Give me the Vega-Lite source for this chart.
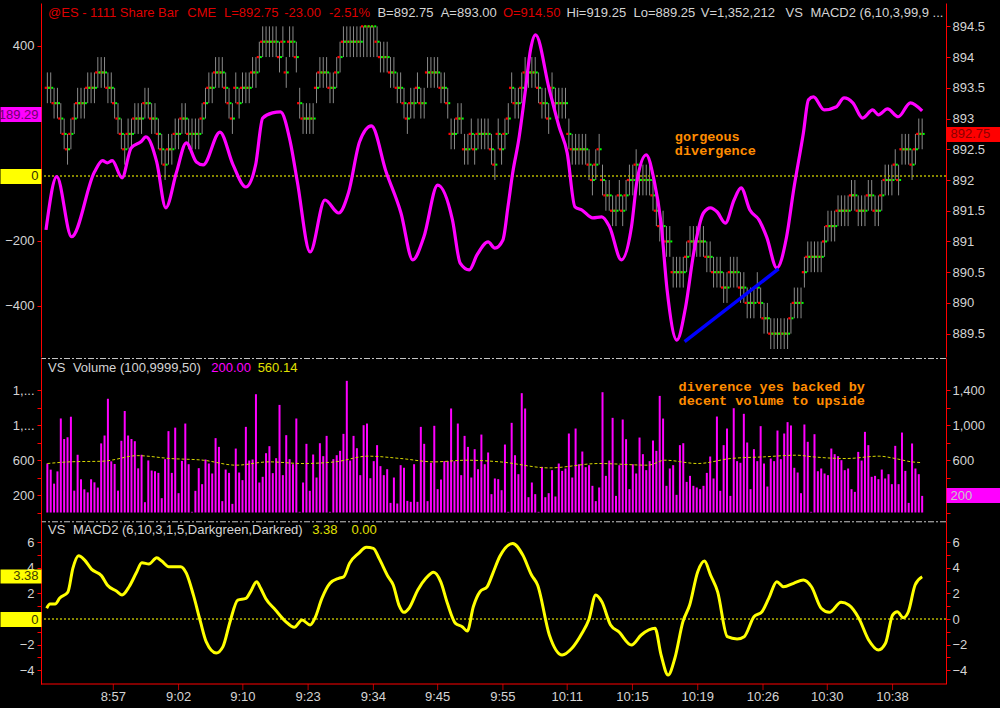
{
"$schema":"https://vega.github.io/schema/vega-lite/v6.json",
"width":905,"height":684,
"autosize":{"type":"none"},
"padding":{"left":41,"top":0,"right":54,"bottom":24},
"background":"#000000",
"config":{"view":{"stroke":null},"axis":{"domainColor":"#ff0000","tickColor":"#ff0000","labelColor":"#d4d4d4","labelFont":"Liberation Sans","labelFontSize":13,"tickSize":4,"grid":false,"labelOverlap":false,"labelBound":false,"labelFlush":false}},
"datasets":{
"bars":[
{"i":0,"p":893.5,"l":893.25,"h":893.75,"v":560},
{"i":1,"p":893.5,"l":893.25,"h":893.75,"v":490},
{"i":2,"p":893.25,"l":893,"h":893.5,"v":330},
{"i":3,"p":893.25,"l":893,"h":893.5,"v":470},
{"i":4,"p":893,"l":892.75,"h":893.25,"v":1075},
{"i":5,"p":892.75,"l":892.5,"h":893,"v":840},
{"i":6,"p":892.5,"l":892.25,"h":892.75,"v":860},
{"i":7,"p":892.75,"l":892.5,"h":893,"v":1095},
{"i":8,"p":893,"l":892.75,"h":893.25,"v":250},
{"i":9,"p":893.25,"l":893,"h":893.5,"v":660},
{"i":10,"p":893.25,"l":893,"h":893.5,"v":380},
{"i":11,"p":893.25,"l":893,"h":893.5,"v":265},
{"i":12,"p":893.5,"l":893.25,"h":893.75,"v":230},
{"i":13,"p":893.5,"l":893.25,"h":893.75,"v":380},
{"i":14,"p":893.5,"l":893.25,"h":893.75,"v":345},
{"i":15,"p":893.75,"l":893.5,"h":894,"v":285},
{"i":16,"p":893.75,"l":893.5,"h":894,"v":790},
{"i":17,"p":893.75,"l":893.5,"h":894,"v":880},
{"i":18,"p":893.5,"l":893.25,"h":893.75,"v":1300},
{"i":19,"p":893.5,"l":893.25,"h":893.75,"v":585},
{"i":20,"p":893.25,"l":893,"h":893.5,"v":555},
{"i":21,"p":893,"l":892.75,"h":893.25,"v":250},
{"i":22,"p":892.75,"l":892.5,"h":893,"v":820},
{"i":23,"p":892.5,"l":892.25,"h":892.75,"v":1160},
{"i":24,"p":892.75,"l":892.5,"h":893,"v":880},
{"i":25,"p":892.75,"l":892.5,"h":893,"v":840},
{"i":26,"p":893,"l":892.75,"h":893.25,"v":815},
{"i":27,"p":893,"l":892.75,"h":893.25,"v":505},
{"i":28,"p":893,"l":892.75,"h":893.25,"v":660},
{"i":29,"p":893.25,"l":893,"h":893.5,"v":118},
{"i":30,"p":893.25,"l":893,"h":893.5,"v":595},
{"i":31,"p":893,"l":892.75,"h":893.25,"v":480},
{"i":32,"p":893,"l":892.75,"h":893.25,"v":472},
{"i":33,"p":892.75,"l":892.5,"h":893,"v":453},
{"i":34,"p":892.5,"l":892.25,"h":892.75,"v":164},
{"i":35,"p":892.25,"l":892,"h":892.5,"v":610},
{"i":36,"p":892.5,"l":892.25,"h":892.75,"v":930},
{"i":37,"p":892.5,"l":892.25,"h":892.75,"v":453},
{"i":38,"p":892.75,"l":892.5,"h":893,"v":970},
{"i":39,"p":892.75,"l":892.5,"h":893,"v":221},
{"i":40,"p":893,"l":892.75,"h":893.25,"v":590},
{"i":41,"p":893,"l":892.75,"h":893.25,"v":1017},
{"i":42,"p":892.75,"l":892.5,"h":893,"v":552},
{"i":43,"p":892.75,"l":892.5,"h":893,"v":8},
{"i":44,"p":892.75,"l":892.5,"h":893,"v":248},
{"i":45,"p":892.75,"l":892.5,"h":893,"v":507},
{"i":46,"p":893,"l":892.75,"h":893.25,"v":324},
{"i":47,"p":893.25,"l":893,"h":893.5,"v":606},
{"i":48,"p":893.5,"l":893.25,"h":893.75,"v":560},
{"i":49,"p":893.5,"l":893.25,"h":893.75,"v":446},
{"i":50,"p":893.75,"l":893.5,"h":894,"v":850},
{"i":51,"p":893.75,"l":893.5,"h":894,"v":750},
{"i":52,"p":893.75,"l":893.5,"h":894,"v":130},
{"i":53,"p":893.5,"l":893.25,"h":893.75,"v":491},
{"i":54,"p":893.25,"l":893,"h":893.5,"v":453},
{"i":55,"p":893,"l":892.75,"h":893.25,"v":99},
{"i":56,"p":893.5,"l":893.25,"h":893.75,"v":731},
{"i":57,"p":893.25,"l":893,"h":893.5,"v":457},
{"i":58,"p":893.5,"l":893.25,"h":893.75,"v":370},
{"i":59,"p":893.5,"l":893.25,"h":893.75,"v":979},
{"i":60,"p":893.5,"l":893.25,"h":893.75,"v":594},
{"i":61,"p":893.75,"l":893.5,"h":894,"v":606},
{"i":62,"p":893.75,"l":893.5,"h":894,"v":1352},
{"i":63,"p":894,"l":893.75,"h":894.25,"v":343},
{"i":64,"p":894.25,"l":894,"h":894.5,"v":408},
{"i":65,"p":894.25,"l":894,"h":894.5,"v":678},
{"i":66,"p":894.25,"l":894,"h":894.5,"v":758},
{"i":67,"p":894.25,"l":894,"h":894.5,"v":450},
{"i":68,"p":894.25,"l":894,"h":894.5,"v":621},
{"i":69,"p":894,"l":893.75,"h":894.25,"v":1230},
{"i":70,"p":894.25,"l":894,"h":894.5,"v":427},
{"i":71,"p":893.75,"l":893.5,"h":894,"v":884},
{"i":72,"p":894.25,"l":894,"h":894.5,"v":610},
{"i":73,"p":894.25,"l":894,"h":894.5,"v":552},
{"i":74,"p":894,"l":893.75,"h":894.25,"v":1074},
{"i":75,"p":893.25,"l":893,"h":893.5,"v":8},
{"i":76,"p":893,"l":892.75,"h":893.25,"v":343},
{"i":77,"p":893,"l":892.75,"h":893.25,"v":785},
{"i":78,"p":893,"l":892.75,"h":893.25,"v":248},
{"i":79,"p":893,"l":892.75,"h":893.25,"v":663},
{"i":80,"p":893.5,"l":893.25,"h":893.75,"v":400},
{"i":81,"p":893.75,"l":893.5,"h":894,"v":792},
{"i":82,"p":893.75,"l":893.5,"h":894,"v":644},
{"i":83,"p":893.75,"l":893.5,"h":894,"v":876},
{"i":84,"p":893.5,"l":893.25,"h":893.75,"v":8},
{"i":85,"p":893.5,"l":893.25,"h":893.75,"v":610},
{"i":86,"p":893.75,"l":893.5,"h":894,"v":655},
{"i":87,"p":894,"l":893.75,"h":894.25,"v":705},
{"i":88,"p":894.25,"l":894,"h":894.5,"v":899},
{"i":89,"p":894.25,"l":894,"h":894.5,"v":1505},
{"i":90,"p":894.25,"l":894,"h":894.5,"v":594},
{"i":91,"p":894.25,"l":894,"h":894.5,"v":876},
{"i":92,"p":894.25,"l":894,"h":894.5,"v":735},
{"i":93,"p":894.25,"l":894,"h":894.5,"v":427},
{"i":94,"p":894.5,"l":894,"h":894.5,"v":998},
{"i":95,"p":894.5,"l":894,"h":894.5,"v":1017},
{"i":96,"p":894.5,"l":894,"h":894.5,"v":392},
{"i":97,"p":894.5,"l":894,"h":894.5,"v":587},
{"i":98,"p":894.25,"l":894,"h":894.5,"v":770},
{"i":99,"p":894,"l":893.75,"h":894.25,"v":530},
{"i":100,"p":894,"l":893.75,"h":894.25,"v":427},
{"i":101,"p":894,"l":893.75,"h":894.25,"v":495},
{"i":102,"p":893.75,"l":893.5,"h":894,"v":110},
{"i":103,"p":893.75,"l":893.5,"h":894,"v":400},
{"i":104,"p":893.5,"l":893.25,"h":893.75,"v":103},
{"i":105,"p":893.5,"l":893.25,"h":893.75,"v":541},
{"i":106,"p":893.25,"l":893,"h":893.5,"v":511},
{"i":107,"p":893,"l":892.75,"h":893.25,"v":133},
{"i":108,"p":893.25,"l":893,"h":893.5,"v":122},
{"i":109,"p":893.25,"l":893,"h":893.5,"v":552},
{"i":110,"p":893.5,"l":893.25,"h":893.75,"v":122},
{"i":111,"p":893.25,"l":893,"h":893.5,"v":979},
{"i":112,"p":893.25,"l":893,"h":893.5,"v":785},
{"i":113,"p":893.75,"l":893.5,"h":894,"v":130},
{"i":114,"p":893.75,"l":893.5,"h":894,"v":568},
{"i":115,"p":893.75,"l":893.5,"h":894,"v":991},
{"i":116,"p":893.75,"l":893.5,"h":894,"v":267},
{"i":117,"p":893.5,"l":893.25,"h":893.75,"v":377},
{"i":118,"p":893.5,"l":893.25,"h":893.75,"v":587},
{"i":119,"p":893.25,"l":893,"h":893.5,"v":587},
{"i":120,"p":892.75,"l":892.5,"h":893,"v":1189},
{"i":121,"p":892.75,"l":892.5,"h":893,"v":587},
{"i":122,"p":893,"l":892.75,"h":893.25,"v":1017},
{"i":123,"p":893,"l":892.75,"h":893.25,"v":427},
{"i":124,"p":892.5,"l":892.25,"h":892.75,"v":876},
{"i":125,"p":892.5,"l":892.25,"h":892.75,"v":750},
{"i":126,"p":892.75,"l":892.5,"h":893,"v":400},
{"i":127,"p":892.5,"l":892.25,"h":892.75,"v":724},
{"i":128,"p":892.75,"l":892.5,"h":893,"v":495},
{"i":129,"p":892.75,"l":892.5,"h":893,"v":891},
{"i":130,"p":892.75,"l":892.5,"h":893,"v":552},
{"i":131,"p":892.75,"l":892.5,"h":893,"v":686},
{"i":132,"p":892.5,"l":892.25,"h":892.75,"v":210},
{"i":133,"p":892.25,"l":892,"h":892.5,"v":389},
{"i":134,"p":892.75,"l":892.5,"h":893,"v":381},
{"i":135,"p":892.5,"l":892.25,"h":892.75,"v":255},
{"i":136,"p":892.75,"l":892.5,"h":893,"v":777},
{"i":137,"p":893,"l":892.75,"h":893.25,"v":8},
{"i":138,"p":893.5,"l":893.25,"h":893.75,"v":1025},
{"i":139,"p":893.25,"l":893,"h":893.5,"v":655},
{"i":140,"p":893.25,"l":893,"h":893.5,"v":438},
{"i":141,"p":893.5,"l":893.25,"h":893.75,"v":1364},
{"i":142,"p":893.75,"l":893.5,"h":894,"v":1189},
{"i":143,"p":893.75,"l":893.5,"h":894,"v":175},
{"i":144,"p":893.75,"l":893.5,"h":894,"v":343},
{"i":145,"p":893.75,"l":893.5,"h":894,"v":210},
{"i":146,"p":893.5,"l":893.25,"h":893.75,"v":8},
{"i":147,"p":893.25,"l":893,"h":893.5,"v":522},
{"i":148,"p":893.25,"l":893,"h":893.5,"v":175},
{"i":149,"p":893,"l":892.75,"h":893.25,"v":221},
{"i":150,"p":893.5,"l":893.25,"h":893.75,"v":484},
{"i":151,"p":893.25,"l":893,"h":893.5,"v":183},
{"i":152,"p":893.25,"l":893,"h":893.5,"v":560},
{"i":153,"p":893.25,"l":893,"h":893.5,"v":476},
{"i":154,"p":893.25,"l":893,"h":893.5,"v":503},
{"i":155,"p":892.75,"l":892.5,"h":893,"v":903},
{"i":156,"p":892.5,"l":892.25,"h":892.75,"v":400},
{"i":157,"p":892.5,"l":892.25,"h":892.75,"v":960},
{"i":158,"p":892.5,"l":892.25,"h":892.75,"v":552},
{"i":159,"p":892.5,"l":892.25,"h":892.75,"v":697},
{"i":160,"p":892.5,"l":892.25,"h":892.75,"v":518},
{"i":161,"p":892.25,"l":892,"h":892.5,"v":541},
{"i":162,"p":892,"l":891.75,"h":892.25,"v":305},
{"i":163,"p":892.25,"l":892,"h":892.5,"v":130},
{"i":164,"p":892.5,"l":892.25,"h":892.75,"v":286},
{"i":165,"p":892,"l":891.75,"h":892.25,"v":1375},
{"i":166,"p":891.75,"l":891.5,"h":892,"v":419},
{"i":167,"p":891.75,"l":891.5,"h":892,"v":594},
{"i":168,"p":891.5,"l":891.25,"h":891.75,"v":1082},
{"i":169,"p":891.5,"l":891.25,"h":891.75,"v":190},
{"i":170,"p":891.75,"l":891.5,"h":892,"v":541},
{"i":171,"p":891.5,"l":891.25,"h":891.75,"v":1063},
{"i":172,"p":891.75,"l":891.5,"h":892,"v":838},
{"i":173,"p":892,"l":891.75,"h":892.25,"v":267},
{"i":174,"p":892,"l":891.75,"h":892.25,"v":552},
{"i":175,"p":892.25,"l":892,"h":892.5,"v":446},
{"i":176,"p":892,"l":891.75,"h":892.25,"v":857},
{"i":177,"p":892,"l":891.75,"h":892.25,"v":667},
{"i":178,"p":892,"l":891.75,"h":892.25,"v":484},
{"i":179,"p":892,"l":891.75,"h":892.25,"v":587},
{"i":180,"p":891.75,"l":891.5,"h":892,"v":823},
{"i":181,"p":891.5,"l":891.25,"h":891.75,"v":705},
{"i":182,"p":891.25,"l":891,"h":891.5,"v":1333},
{"i":183,"p":891.25,"l":891,"h":891.5,"v":1074},
{"i":184,"p":891,"l":890.75,"h":891.25,"v":305},
{"i":185,"p":891,"l":890.75,"h":891.25,"v":503},
{"i":186,"p":890.5,"l":890.25,"h":890.75,"v":541},
{"i":187,"p":890.5,"l":890.25,"h":890.75,"v":202},
{"i":188,"p":890.5,"l":890.25,"h":890.75,"v":770},
{"i":189,"p":890.5,"l":890.25,"h":890.75,"v":792},
{"i":190,"p":890.75,"l":890.5,"h":891,"v":350},
{"i":191,"p":891,"l":890.75,"h":891.25,"v":419},
{"i":192,"p":891,"l":890.75,"h":891.25,"v":305},
{"i":193,"p":891,"l":890.75,"h":891.25,"v":286},
{"i":194,"p":891,"l":890.75,"h":891.25,"v":267},
{"i":195,"p":891,"l":890.75,"h":891.25,"v":305},
{"i":196,"p":890.75,"l":890.5,"h":891,"v":453},
{"i":197,"p":890.75,"l":890.5,"h":891,"v":640},
{"i":198,"p":890.5,"l":890.25,"h":890.75,"v":389},
{"i":199,"p":890.5,"l":890.25,"h":890.75,"v":1097},
{"i":200,"p":890.5,"l":890.25,"h":890.75,"v":248},
{"i":201,"p":890.25,"l":890,"h":890.5,"v":770},
{"i":202,"p":890.25,"l":890,"h":890.5,"v":960},
{"i":203,"p":890.5,"l":890.25,"h":890.75,"v":190},
{"i":204,"p":890.5,"l":890.25,"h":890.75,"v":1192},
{"i":205,"p":890.5,"l":890.25,"h":890.75,"v":587},
{"i":206,"p":890.25,"l":890,"h":890.5,"v":568},
{"i":207,"p":890.25,"l":890,"h":890.5,"v":1128},
{"i":208,"p":890,"l":889.75,"h":890.25,"v":800},
{"i":209,"p":890,"l":889.75,"h":890.25,"v":267},
{"i":210,"p":890,"l":889.75,"h":890.25,"v":724},
{"i":211,"p":890.25,"l":890,"h":890.5,"v":587},
{"i":212,"p":890,"l":889.75,"h":890.25,"v":987},
{"i":213,"p":889.75,"l":889.5,"h":890,"v":560},
{"i":214,"p":889.75,"l":889.5,"h":890,"v":297},
{"i":215,"p":889.5,"l":889.25,"h":889.75,"v":617},
{"i":216,"p":889.5,"l":889.25,"h":889.75,"v":587},
{"i":217,"p":889.5,"l":889.25,"h":889.75,"v":937},
{"i":218,"p":889.5,"l":889.25,"h":889.75,"v":610},
{"i":219,"p":889.5,"l":889.25,"h":889.75,"v":903},
{"i":220,"p":889.5,"l":889.25,"h":889.75,"v":1033},
{"i":221,"p":889.75,"l":889.5,"h":890,"v":995},
{"i":222,"p":890,"l":889.75,"h":890.25,"v":511},
{"i":223,"p":890,"l":889.75,"h":890.25,"v":457},
{"i":224,"p":890,"l":889.75,"h":890.25,"v":221},
{"i":225,"p":890.5,"l":890.25,"h":890.75,"v":1006},
{"i":226,"p":890.75,"l":890.5,"h":891,"v":808},
{"i":227,"p":890.75,"l":890.5,"h":891,"v":8},
{"i":228,"p":890.75,"l":890.5,"h":891,"v":895},
{"i":229,"p":890.75,"l":890.5,"h":891,"v":472},
{"i":230,"p":890.75,"l":890.5,"h":891,"v":503},
{"i":231,"p":891,"l":890.75,"h":891.25,"v":446},
{"i":232,"p":891.25,"l":891,"h":891.5,"v":427},
{"i":233,"p":891.25,"l":891,"h":891.5,"v":731},
{"i":234,"p":891.25,"l":891,"h":891.5,"v":667},
{"i":235,"p":891.5,"l":891.25,"h":891.75,"v":644},
{"i":236,"p":891.5,"l":891.25,"h":891.75,"v":598},
{"i":237,"p":891.5,"l":891.25,"h":891.75,"v":484},
{"i":238,"p":891.5,"l":891.25,"h":891.75,"v":503},
{"i":239,"p":891.75,"l":891.5,"h":892,"v":267},
{"i":240,"p":891.75,"l":891.5,"h":892,"v":236},
{"i":241,"p":891.5,"l":891.25,"h":891.75,"v":693},
{"i":242,"p":891.5,"l":891.25,"h":891.75,"v":594},
{"i":243,"p":891.5,"l":891.25,"h":891.75,"v":922},
{"i":244,"p":891.75,"l":891.5,"h":892,"v":770},
{"i":245,"p":891.75,"l":891.5,"h":892,"v":408},
{"i":246,"p":891.5,"l":891.25,"h":891.75,"v":419},
{"i":247,"p":891.5,"l":891.25,"h":891.75,"v":381},
{"i":248,"p":891.75,"l":891.5,"h":892,"v":491},
{"i":249,"p":892,"l":891.75,"h":892.25,"v":389},
{"i":250,"p":892,"l":891.75,"h":892.25,"v":438},
{"i":251,"p":892,"l":891.75,"h":892.25,"v":324},
{"i":252,"p":892.25,"l":892,"h":892.5,"v":762},
{"i":253,"p":892,"l":891.75,"h":892.25,"v":324},
{"i":254,"p":892.5,"l":892.25,"h":892.75,"v":914},
{"i":255,"p":892.5,"l":892.25,"h":892.75,"v":476},
{"i":256,"p":892.5,"l":892.25,"h":892.75,"v":110},
{"i":257,"p":892.25,"l":892,"h":892.5,"v":789},
{"i":258,"p":892.5,"l":892.25,"h":892.75,"v":503},
{"i":259,"p":892.75,"l":892.5,"h":893,"v":438},
{"i":260,"p":892.75,"l":892.5,"h":893,"v":190}
],
"osc":[{"i":-0.4,"o":-166},{"i":2.8,"o":-2},{"i":7.2,"o":-187},{"i":14,"o":12},{"i":16.4,"o":47},{"i":17.8,"o":40},{"i":19.3,"o":47},{"i":22.2,"o":-6},{"i":24.9,"o":86},{"i":27.8,"o":105},{"i":29.3,"o":120},{"i":32.5,"o":43},{"i":35.2,"o":-98},{"i":38.4,"o":12},{"i":41.3,"o":102},{"i":44.3,"o":43},{"i":46.3,"o":34},{"i":51.3,"o":135},{"i":55.2,"o":34},{"i":59,"o":-34},{"i":61.9,"o":34},{"i":64,"o":178},{"i":66.9,"o":194},{"i":69.3,"o":197},{"i":72.2,"o":105},{"i":74.3,"o":-18},{"i":78.1,"o":-234},{"i":82.5,"o":-74},{"i":86.6,"o":-114},{"i":89.5,"o":-52},{"i":92.8,"o":105},{"i":96.3,"o":154},{"i":100.7,"o":12},{"i":105.1,"o":-114},{"i":108.6,"o":-258},{"i":111.9,"o":-188},{"i":116,"o":-28},{"i":120.4,"o":-135},{"i":122.7,"o":-268},{"i":125.4,"o":-289},{"i":127.7,"o":-243},{"i":131,"o":-203},{"i":133,"o":-222},{"i":135.4,"o":-197},{"i":136.9,"o":-95},{"i":138.3,"o":9},{"i":140.1,"o":111},{"i":142.1,"o":265},{"i":143.6,"o":388},{"i":145.1,"o":434},{"i":149.2,"o":265},{"i":152.1,"o":151},{"i":154.5,"o":71},{"i":156.8,"o":-95},{"i":158.9,"o":-105},{"i":162.1,"o":-129},{"i":164.8,"o":-126},{"i":167.1,"o":-157},{"i":170.6,"o":-258},{"i":173.6,"o":-157},{"i":175.3,"o":-12},{"i":178,"o":65},{"i":180.3,"o":-12},{"i":182.4,"o":-145},{"i":184.2,"o":-351},{"i":187.1,"o":-505},{"i":189.7,"o":-403},{"i":192.1,"o":-237},{"i":195,"o":-114},{"i":197.1,"o":-98},{"i":199.1,"o":-111},{"i":201.5,"o":-145},{"i":204.1,"o":-74},{"i":206.2,"o":-37},{"i":208.8,"o":-105},{"i":211.5,"o":-135},{"i":213.8,"o":-188},{"i":216.8,"o":-283},{"i":219.7,"o":-188},{"i":221.8,"o":-43},{"i":224.7,"o":132},{"i":226.2,"o":234},{"i":227.7,"o":243},{"i":230.9,"o":203},{"i":234.4,"o":212},{"i":236.8,"o":240},{"i":239.4,"o":225},{"i":242.3,"o":178},{"i":245.3,"o":203},{"i":247,"o":188},{"i":249.7,"o":206},{"i":252.9,"o":182},{"i":256.5,"o":225},{"i":260,"o":200}],
"macd":[{"i":-0.2,"m":0.84},{"i":0.8,"m":1.17},{"i":2.3,"m":1.17},{"i":3.7,"m":1.64},{"i":6.1,"m":2.1},{"i":7.6,"m":3.98},{"i":9.3,"m":4.95},{"i":11.1,"m":4.6},{"i":13.1,"m":3.9},{"i":16.1,"m":3.38},{"i":17.8,"m":2.66},{"i":20.5,"m":2.19},{"i":22.2,"m":1.88},{"i":24.3,"m":2.52},{"i":26.4,"m":3.59},{"i":28.1,"m":4.4},{"i":30.2,"m":4.3},{"i":32.5,"m":4.79},{"i":34,"m":4.53},{"i":36.1,"m":4.09},{"i":39.6,"m":4.09},{"i":41.3,"m":3.59},{"i":43.4,"m":1.88},{"i":45.5,"m":-0.21},{"i":47.2,"m":-1.77},{"i":50.2,"m":-2.66},{"i":52.2,"m":-2.16},{"i":54.3,"m":-0.21},{"i":56.6,"m":1.48},{"i":59,"m":1.61},{"i":60.4,"m":2.14},{"i":62.2,"m":2.92},{"i":63.4,"m":2.4},{"i":64.9,"m":1.61},{"i":67.8,"m":0.7},{"i":70.7,"m":-0.16},{"i":73.4,"m":-0.65},{"i":75.7,"m":-0.08},{"i":78.1,"m":-0.47},{"i":79.5,"m":0.05},{"i":81.6,"m":1.61},{"i":84,"m":2.79},{"i":86.6,"m":3.18},{"i":88.1,"m":3.3},{"i":89.8,"m":4.35},{"i":92.5,"m":5.13},{"i":94.8,"m":5.6},{"i":96.9,"m":5.52},{"i":98.6,"m":4.74},{"i":101.3,"m":3.3},{"i":102.8,"m":2.66},{"i":104.5,"m":1.09},{"i":106,"m":0.52},{"i":107.5,"m":0.84},{"i":110.1,"m":2.27},{"i":112.5,"m":3.18},{"i":114.8,"m":3.65},{"i":116.9,"m":2.92},{"i":118.9,"m":1.23},{"i":121.3,"m":-0.34},{"i":123.3,"m":-0.6},{"i":124.8,"m":-0.94},{"i":126.6,"m":0.96},{"i":128.6,"m":2.14},{"i":130.7,"m":2.52},{"i":132.4,"m":3.57},{"i":134.5,"m":4.9},{"i":138.3,"m":5.91},{"i":141.3,"m":5},{"i":143.9,"m":3.44},{"i":145.7,"m":2.66},{"i":149.2,"m":-1.25},{"i":153,"m":-2.81},{"i":155.9,"m":-2.29},{"i":158.9,"m":-1.12},{"i":160.9,"m":-0.08},{"i":163,"m":1.88},{"i":164.8,"m":1.35},{"i":167.4,"m":-0.47},{"i":169.8,"m":-0.99},{"i":173.6,"m":-2.03},{"i":176.5,"m":-1.25},{"i":180.6,"m":-0.73},{"i":182.4,"m":-2.81},{"i":184.5,"m":-4.38},{"i":186.5,"m":-3.07},{"i":188.9,"m":-0.21},{"i":190.9,"m":1.09},{"i":193.3,"m":3.7},{"i":195.3,"m":4.53},{"i":197.1,"m":3.44},{"i":199.2,"m":2.14},{"i":202.1,"m":-1.38},{"i":205,"m":-1.56},{"i":207.1,"m":-1.38},{"i":210,"m":0.18},{"i":212.4,"m":0.57},{"i":214.4,"m":1.61},{"i":216.8,"m":2.92},{"i":218.8,"m":2.52},{"i":221.8,"m":2.79},{"i":224.7,"m":3.05},{"i":227.1,"m":2.52},{"i":230,"m":0.84},{"i":232.4,"m":0.52},{"i":235.9,"m":1.3},{"i":238.2,"m":1.09},{"i":241.2,"m":0.05},{"i":244.1,"m":-1.64},{"i":247,"m":-2.42},{"i":249.1,"m":-1.9},{"i":251.2,"m":0.31},{"i":252.6,"m":0.57},{"i":254.4,"m":0.1},{"i":255.9,"m":0.57},{"i":257.9,"m":2.66},{"i":260,"m":3.3}],
"vavg":[{"i":0,"a":560},{"i":7.2,"a":580},{"i":17,"a":587},{"i":19,"a":598},{"i":26.7,"a":650},{"i":36.6,"a":617},{"i":46.3,"a":598},{"i":56.1,"a":541},{"i":65.9,"a":579},{"i":75.7,"a":560},{"i":85.5,"a":579},{"i":95.3,"a":644},{"i":105.1,"a":617},{"i":114.9,"a":579},{"i":124.7,"a":598},{"i":134.5,"a":579},{"i":149.2,"a":510},{"i":163.9,"a":560},{"i":178.6,"a":541},{"i":183.5,"a":598},{"i":193.3,"a":560},{"i":203.1,"a":617},{"i":212.9,"a":636},{"i":222.7,"a":655},{"i":227.6,"a":636},{"i":237.4,"a":617},{"i":247.2,"a":644},{"i":252,"a":617},{"i":256.9,"a":579},{"i":259.4,"a":571}],
"blue":[{"i":189.4,"o":-510},{"i":217.3,"o":-286}],
"xt":[{"i":19.6,"t":"8:57"},{"i":39,"t":"9:02"},{"i":58.1,"t":"9:10"},{"i":77.5,"t":"9:23"},{"i":96.9,"t":"9:34"},{"i":116,"t":"9:45"},{"i":135.4,"t":"9:55"},{"i":154.5,"t":"10:11"},{"i":173.9,"t":"10:15"},{"i":193.3,"t":"10:19"},{"i":212.7,"t":"10:26"},{"i":231.8,"t":"10:30"},{"i":251.2,"t":"10:38"}],
"notes":[
{"g":"top","x":0.2,"y":501.5,"t":"@ES - 1111 Share Bar","k":"red"},
{"g":"top","x":41.6,"y":501.5,"t":"CME","k":"red"},
{"g":"top","x":52.5,"y":501.5,"t":"L=892.75","k":"red"},
{"g":"top","x":70.4,"y":501.5,"t":"-23.00","k":"red"},
{"g":"top","x":83.7,"y":501.5,"t":"-2.51%","k":"red"},
{"g":"top","x":98.1,"y":501.5,"t":"B=892.75","k":"grey"},
{"g":"top","x":116.9,"y":501.5,"t":"A=893.00","k":"grey"},
{"g":"top","x":135.4,"y":501.5,"t":"O=914.50","k":"red"},
{"g":"top","x":154.3,"y":501.5,"t":"Hi=919.25","k":"grey"},
{"g":"top","x":174.2,"y":501.5,"t":"Lo=889.25","k":"grey"},
{"g":"top","x":194.2,"y":501.5,"t":"V=1,352,212","k":"grey"},
{"g":"top","x":219.4,"y":501.5,"t":"VS","k":"grey"},
{"g":"top","x":226.8,"y":501.5,"t":"MACD2 (6,10,3,99,9 ...","k":"grey"},
{"g":"vol","x":0.2,"y":1655,"t":"VS","k":"grey"},
{"g":"vol","x":7.6,"y":1655,"t":"Volume (100,9999,50)","k":"grey"},
{"g":"vol","x":48.7,"y":1655,"t":"200.00","k":"mag"},
{"g":"vol","x":62.5,"y":1655,"t":"560.14","k":"yel"},
{"g":"macd","x":0.2,"y":6.95,"t":"VS","k":"grey"},
{"g":"macd","x":7.6,"y":6.95,"t":"MACD2 (6,10,3,1,5,Darkgreen,Darkred)","k":"grey"},
{"g":"macd","x":78.7,"y":6.95,"t":"3.38","k":"yel"},
{"g":"macd","x":90.4,"y":6.95,"t":"0.00","k":"yel"},
{"g":"ann1","x":186.5,"y":118.5,"t":"gorgeous","k":"org"},
{"g":"ann1","x":186.5,"y":77,"t":"divergence","k":"org"},
{"g":"ann2","x":215.3,"y":1434,"t":"diverence yes backed by","k":"org"},
{"g":"ann2","x":215.3,"y":1274,"t":"decent volume to upside","k":"org"}
]
},
"layer":[
{
 "data":{"name":"bars"},
 "layer":[
  {"mark":{"type":"rule","color":"#8a8a8a","strokeWidth":1},
   "encoding":{
    "x":{"field":"i","type":"quantitative","scale":{"domain":[-0.4,265.6],"nice":false,"zero":false},"axis":null},
    "y":{"field":"l","type":"quantitative","scale":{"domain":[889.12,894.88],"range":[357,3],"nice":false,"zero":false},
      "axis":{"orient":"right","title":null,"values":[889.5,890,890.5,891,891.5,892,892.5,893,893.5,894,894.5],"format":".1~f","labelPadding":2,"zindex":1}},
    "y2":{"field":"h"}}},
  {"mark":{"type":"square","color":"#ff0000","size":5,"opacity":1,"xOffset":-1.5},
   "encoding":{
    "x":{"field":"i","type":"quantitative","scale":{"domain":[-0.4,265.6],"nice":false,"zero":false},"axis":null},
    "y":{"field":"p","type":"quantitative","scale":{"domain":[889.12,894.88],"range":[357,3],"nice":false,"zero":false},
      "axis":{"orient":"right","title":null,"values":[892.75],"domain":false,"tickSize":54,"tickWidth":15,"tickColor":"#ff0000","tickCap":"butt","labelPadding":-50,"labelColor":"#8b0000","labelExpr":"'892.75'","zindex":2}}}},
  {"mark":{"type":"square","color":"#00ff00","size":4,"opacity":1,"xOffset":1.5},
   "encoding":{
    "x":{"field":"i","type":"quantitative","scale":{"domain":[-0.4,265.6],"nice":false,"zero":false},"axis":null},
    "y":{"field":"p","type":"quantitative","scale":{"domain":[889.12,894.88],"range":[357,3],"nice":false,"zero":false},"axis":null}}}
 ],
 "resolve":{"axis":{"y":"independent"}}
},
{
 "layer":[
  {"data":{"values":[{}]},"mark":{"type":"rule","color":"#b4b400","strokeWidth":1.5,"strokeDash":[2,2]},
   "encoding":{
    "y":{"datum":0,"type":"quantitative","scale":{"domain":[-557,532],"range":[357,3],"nice":false,"zero":false},
      "axis":{"orient":"left","title":null,"values":[0],"domain":false,"tickSize":41,"tickWidth":15,"tickColor":"#ffff00","tickCap":"butt","labelPadding":-38,"labelColor":"#303000","labelExpr":"'0'","zindex":2}}}},
  {"data":{"name":"osc"},"mark":{"type":"line","color":"#ff00ff","strokeWidth":3.2,"interpolate":"monotone"},
   "encoding":{
    "x":{"field":"i","type":"quantitative","scale":{"domain":[-0.4,265.6],"nice":false,"zero":false},"axis":null},
    "y":{"field":"o","type":"quantitative","scale":{"domain":[-557,532],"range":[357,3],"nice":false,"zero":false},
      "axis":{"orient":"left","title":null,"values":[-400,-200,400],"labelPadding":3,"zindex":1}}}},
  {"data":{"name":"blue"},"mark":{"type":"line","color":"#0000ff","strokeWidth":3.5},
   "encoding":{
    "x":{"field":"i","type":"quantitative","scale":{"domain":[-0.4,265.6],"nice":false,"zero":false},"axis":null},
    "y":{"field":"o","type":"quantitative","scale":{"domain":[-557,532],"range":[357,3],"nice":false,"zero":false},
      "axis":{"orient":"left","title":null,"values":[189.29],"domain":false,"tickSize":41,"tickWidth":15,"tickColor":"#ff00ff","tickCap":"butt","labelPadding":-38,"labelColor":"#700070","labelExpr":"'189.29'","zindex":2}}}},
  {"data":{"name":"notes"},"transform":[{"filter":"datum.g=='top'"}],
   "mark":{"type":"text","align":"left","baseline":"middle","font":"Liberation Sans","fontSize":13},
   "encoding":{
    "x":{"field":"x","type":"quantitative","scale":{"domain":[-0.4,265.6],"nice":false,"zero":false},"axis":null},
    "y":{"field":"y","type":"quantitative","scale":{"domain":[-557,532],"range":[357,3],"nice":false,"zero":false},"axis":null},
    "text":{"field":"t","type":"nominal"},
    "color":{"field":"k","type":"nominal","scale":{"domain":["red","grey","mag","yel","org"],"range":["#dd0000","#d4d4d4","#ff00ff","#e0e000","#ff8c00"]},"legend":null}}},
  {"data":{"name":"notes"},"transform":[{"filter":"datum.g=='ann1'"}],
   "mark":{"type":"text","align":"left","baseline":"middle","font":"Liberation Mono","fontSize":13.5,"fontWeight":"bold"},
   "encoding":{
    "x":{"field":"x","type":"quantitative","scale":{"domain":[-0.4,265.6],"nice":false,"zero":false},"axis":null},
    "y":{"field":"y","type":"quantitative","scale":{"domain":[-557,532],"range":[357,3],"nice":false,"zero":false},"axis":null},
    "text":{"field":"t","type":"nominal"},
    "color":{"field":"k","type":"nominal","scale":{"domain":["red","grey","mag","yel","org"],"range":["#dd0000","#d4d4d4","#ff00ff","#e0e000","#ff8c00"]},"legend":null}}}
 ],
 "resolve":{"axis":{"y":"independent"}}
},
{
 "layer":[
  {"data":{"values":[{}]},"mark":{"type":"rule","color":"#c8c8c8","strokeWidth":1,"strokeDash":[6,2,2,2]},
   "encoding":{
    "y":{"datum":1760,"type":"quantitative","scale":{"domain":[-97,1766],"range":[521,358],"nice":false,"zero":false},
      "axis":{"orient":"right","title":null,"values":[200],"domain":false,"tickSize":54,"tickWidth":15,"tickColor":"#ff00ff","tickCap":"butt","labelPadding":-50,"labelColor":"#c8c8c8","labelExpr":"'200'","zindex":2}}}},
  {"data":{"name":"bars"},"mark":{"type":"bar","color":"#ff00ff","size":2},
   "encoding":{
    "x":{"field":"i","type":"quantitative","scale":{"domain":[-0.4,265.6],"nice":false,"zero":false},"axis":null},
    "y":{"field":"v","type":"quantitative","scale":{"domain":[-97,1766],"range":[521,358],"nice":false,"zero":false},
      "axis":{"orient":"left","title":null,"values":[0,200,400,600,800,1000,1200,1400],"labelPadding":3,"labelExpr":"datum.value==200?'200':datum.value==600?'600':(datum.value==1000||datum.value==1400)?'1,...':''","zindex":1}}}},
  {"data":{"name":"vavg"},"mark":{"type":"line","color":"#d8d800","strokeWidth":1,"strokeDash":[3,2],"interpolate":"monotone"},
   "encoding":{
    "x":{"field":"i","type":"quantitative","scale":{"domain":[-0.4,265.6],"nice":false,"zero":false},"axis":null},
    "y":{"field":"a","type":"quantitative","scale":{"domain":[-97,1766],"range":[521,358],"nice":false,"zero":false},
      "axis":{"orient":"right","title":null,"values":[0,200,400,600,800,1000,1200,1400],"labelPadding":2,"labelExpr":"(datum.value==600||datum.value==1000||datum.value==1400)?format(datum.value,','):''","zindex":1}}}},
  {"data":{"name":"notes"},"transform":[{"filter":"datum.g=='vol'"}],
   "mark":{"type":"text","align":"left","baseline":"middle","font":"Liberation Sans","fontSize":13},
   "encoding":{
    "x":{"field":"x","type":"quantitative","scale":{"domain":[-0.4,265.6],"nice":false,"zero":false},"axis":null},
    "y":{"field":"y","type":"quantitative","scale":{"domain":[-97,1766],"range":[521,358],"nice":false,"zero":false},"axis":null},
    "text":{"field":"t","type":"nominal"},
    "color":{"field":"k","type":"nominal","scale":{"domain":["red","grey","mag","yel","org"],"range":["#dd0000","#d4d4d4","#ff00ff","#e0e000","#ff8c00"]},"legend":null}}},
  {"data":{"name":"notes"},"transform":[{"filter":"datum.g=='ann2'"}],
   "mark":{"type":"text","align":"center","baseline":"middle","font":"Liberation Mono","fontSize":13.5,"fontWeight":"bold"},
   "encoding":{
    "x":{"field":"x","type":"quantitative","scale":{"domain":[-0.4,265.6],"nice":false,"zero":false},"axis":null},
    "y":{"field":"y","type":"quantitative","scale":{"domain":[-97,1766],"range":[521,358],"nice":false,"zero":false},"axis":null},
    "text":{"field":"t","type":"nominal"},
    "color":{"field":"k","type":"nominal","scale":{"domain":["red","grey","mag","yel","org"],"range":["#dd0000","#d4d4d4","#ff00ff","#e0e000","#ff8c00"]},"legend":null}}}
 ],
 "resolve":{"axis":{"y":"independent"}}
},
{
 "layer":[
  {"data":{"values":[{}]},"mark":{"type":"rule","color":"#c8c8c8","strokeWidth":1,"strokeDash":[6,2,2,2]},
   "encoding":{
    "y":{"datum":7.6,"type":"quantitative","scale":{"domain":[-5.08,7.66],"range":[684,521],"nice":false,"zero":false},
      "axis":{"orient":"left","title":null,"values":[0],"domain":false,"tickSize":41,"tickWidth":15,"tickColor":"#ffff00","tickCap":"butt","labelPadding":-38,"labelColor":"#303000","labelExpr":"'0'","zindex":2}}}},
  {"data":{"values":[{}]},"mark":{"type":"rule","color":"#b4b400","strokeWidth":1.5,"strokeDash":[2,2]},
   "encoding":{
    "y":{"datum":0,"type":"quantitative","scale":{"domain":[-5.08,7.66],"range":[684,521],"nice":false,"zero":false},
      "axis":{"orient":"right","title":null,"values":[-4,-3,-2,-1,0,1,2,3,4,5,6],"labelPadding":2,"labelExpr":"datum.value % 2 == 0 ? datum.label : ''","zindex":1}}}},
  {"data":{"values":[{}]},"mark":{"type":"rule","color":"#ff0000","strokeWidth":1},
   "encoding":{
    "y":{"datum":-5.08,"type":"quantitative","scale":{"domain":[-5.08,7.66],"range":[684,521],"nice":false,"zero":false},"axis":null}}},
  {"data":{"name":"xt"},"mark":{"type":"tick","color":"#ff0000","orient":"vertical","size":6,"thickness":1},
   "encoding":{
    "x":{"field":"i","type":"quantitative","scale":{"domain":[-0.4,265.6],"nice":false,"zero":false},"axis":null},
    "y":{"datum":-5.31,"type":"quantitative","scale":{"domain":[-5.08,7.66],"range":[684,521],"nice":false,"zero":false},"axis":null}}},
  {"data":{"name":"xt"},"mark":{"type":"text","color":"#d4d4d4","align":"center","baseline":"middle","font":"Liberation Sans","fontSize":13},
   "encoding":{
    "x":{"field":"i","type":"quantitative","scale":{"domain":[-0.4,265.6],"nice":false,"zero":false},"axis":null},
    "y":{"datum":-6.13,"type":"quantitative","scale":{"domain":[-5.08,7.66],"range":[684,521],"nice":false,"zero":false},"axis":null},
    "text":{"field":"t","type":"nominal"}}},
  {"data":{"name":"macd"},"mark":{"type":"line","color":"#ffff00","strokeWidth":3,"interpolate":"monotone"},
   "encoding":{
    "x":{"field":"i","type":"quantitative","scale":{"domain":[-0.4,265.6],"nice":false,"zero":false},"axis":null},
    "y":{"field":"m","type":"quantitative","scale":{"domain":[-5.08,7.66],"range":[684,521],"nice":false,"zero":false},
      "axis":{"orient":"left","title":null,"values":[-4,-3,-2,-1,1,2,3,4,5,6],"labelPadding":3,"labelExpr":"datum.value % 2 == 0 ? datum.label : ''","zindex":1}}}},
  {"data":{"name":"notes"},"transform":[{"filter":"datum.g=='macd'"}],
   "mark":{"type":"text","align":"left","baseline":"middle","font":"Liberation Sans","fontSize":13},
   "encoding":{
    "x":{"field":"x","type":"quantitative","scale":{"domain":[-0.4,265.6],"nice":false,"zero":false},"axis":null},
    "y":{"field":"y","type":"quantitative","scale":{"domain":[-5.08,7.66],"range":[684,521],"nice":false,"zero":false},
      "axis":{"orient":"left","title":null,"values":[3.38],"domain":false,"tickSize":41,"tickWidth":14,"tickColor":"#ffff00","tickCap":"butt","labelPadding":-38,"labelColor":"#404000","labelExpr":"'3.38'","zindex":2}},
    "text":{"field":"t","type":"nominal"},
    "color":{"field":"k","type":"nominal","scale":{"domain":["red","grey","mag","yel","org"],"range":["#dd0000","#d4d4d4","#ff00ff","#e0e000","#ff8c00"]},"legend":null}}}
 ],
 "resolve":{"axis":{"y":"independent"}}
}
],
"resolve":{"scale":{"y":"independent"},"axis":{"y":"independent"}}
}
